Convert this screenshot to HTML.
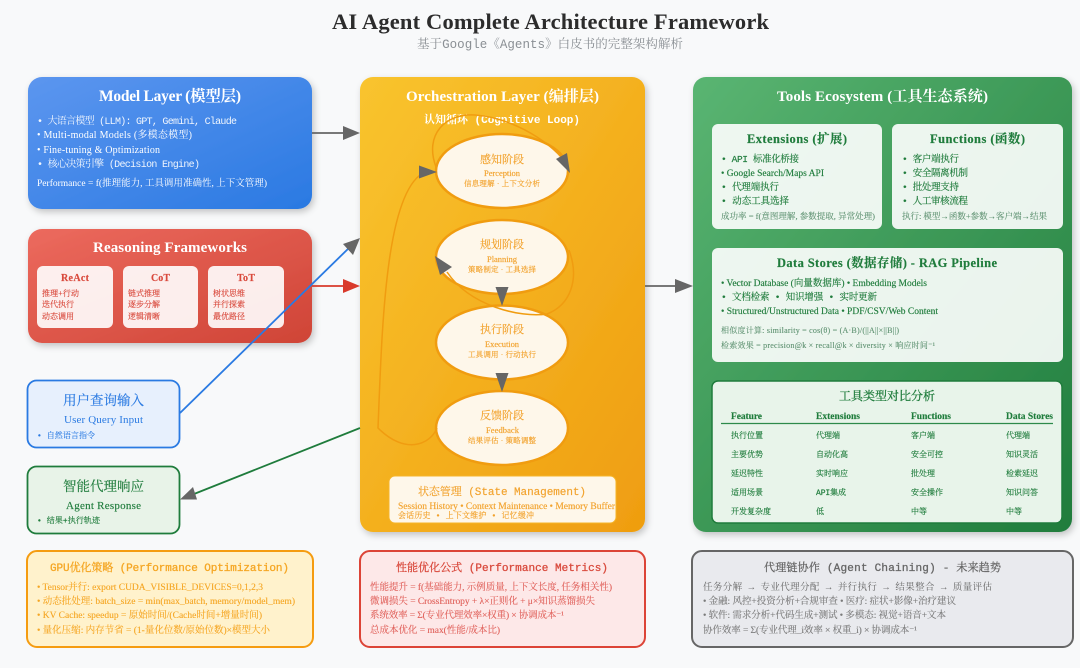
<!DOCTYPE html>
<html><head><meta charset="utf-8"><style>
html,body{margin:0;padding:0;background:#f8f9fa}
svg{display:block;filter:blur(.3px)}
text{font-family:"Liberation Serif","Noto Serif CJK SC",serif}
.m{font-family:"Liberation Mono","Noto Serif CJK SC",monospace}
.b{font-weight:bold}
.w{fill:#fff}
.g{fill:#1f7c3c;stroke:#1f7c3c;stroke-width:.15}
.gl{fill:#5f9272;stroke:#5f9272;stroke-width:.12}
.r{fill:#d94a3d;stroke:#d94a3d;stroke-width:.15}
.o{fill:#f2a22c;stroke:#f2a22c;stroke-width:.15}
.oo{fill:#f5a623;stroke:#f5a623;stroke-width:.12}
.pr{fill:#e0605a;stroke:#e0605a;stroke-width:.12}
.gy{fill:#7a7a7a;stroke:#7a7a7a;stroke-width:.12}
</style></head><body>
<svg width="1080" height="668" viewBox="0 0 1080 668" xmlns="http://www.w3.org/2000/svg">
<defs>
<linearGradient id="gb" x1="0" y1="0" x2="1" y2="1"><stop offset="0" stop-color="#5c96ef"/><stop offset="1" stop-color="#2a79e2"/></linearGradient>
<linearGradient id="gr" x1="0" y1="0" x2="1" y2="1"><stop offset="0" stop-color="#ec6a5e"/><stop offset="1" stop-color="#cf4436"/></linearGradient>
<linearGradient id="gy" x1="0" y1="0" x2="1" y2="1"><stop offset="0" stop-color="#f9c42e"/><stop offset="1" stop-color="#ef9d10"/></linearGradient>
<linearGradient id="gg" x1="0" y1="0" x2="1" y2="1"><stop offset="0" stop-color="#5ab572"/><stop offset="1" stop-color="#1f7c3c"/></linearGradient>
<filter id="sh" x="-10%" y="-10%" width="120%" height="120%"><feDropShadow dx="2" dy="3" stdDeviation="3.5" flood-color="#000" flood-opacity=".22"/></filter>
</defs>
<rect width="1080" height="668" fill="#f8f9fa"/>

<text x="332" y="29" class="b" font-size="22.5" fill="#2c2c2c" textLength="437">AI Agent Complete Architecture Framework</text>
<text x="417" y="48" class="m" font-size="12.5" fill="#8a8f94" textLength="266">基于Google《Agents》白皮书的完整架构解析</text>

<!-- Model -->
<rect x="28" y="77" width="284" height="132" rx="14" fill="url(#gb)" filter="url(#sh)"/>
<text x="99" y="101" class="b w" font-size="15.5" textLength="142">Model Layer (模型层)</text>
<g class="w" font-size="10">
<text x="37" y="124" class="m" textLength="200" fill-opacity=".92">• 大语言模型 (LLM): GPT, Gemini, Claude</text>
<text x="37" y="138" textLength="155">• Multi-modal Models (多模态模型)</text>
<text x="37" y="153" textLength="123">• Fine-tuning &amp; Optimization</text>
<text x="37" y="167" class="m" textLength="163" fill-opacity=".92">• 核心决策引擎 (Decision Engine)</text>
<text x="37" y="186" font-size="9.5" textLength="230">Performance = f(推理能力, 工具调用准确性, 上下文管理)</text>
</g>

<!-- Reasoning -->
<rect x="28" y="229" width="284" height="114" rx="14" fill="url(#gr)" filter="url(#sh)"/>
<text x="93" y="252" class="b w" font-size="15" textLength="154">Reasoning Frameworks</text>
<g fill="#fff" fill-opacity=".9">
<rect x="37" y="266" width="76" height="62" rx="6"/><rect x="123" y="266" width="75" height="62" rx="6"/><rect x="208" y="266" width="76" height="62" rx="6"/>
</g>
<g class="r b" font-size="10">
<text x="61" y="281" textLength="28">ReAct</text><text x="151" y="281" textLength="19">CoT</text><text x="237" y="281" textLength="18">ToT</text>
</g>
<g class="r" font-size="8">
<text x="42" y="296" textLength="37">推理+行动</text><text x="42" y="307">迭代执行</text><text x="42" y="319">动态调用</text>
<text x="128" y="296">链式推理</text><text x="128" y="307">逐步分解</text><text x="128" y="319">逻辑清晰</text>
<text x="213" y="296">树状思维</text><text x="213" y="307">并行探索</text><text x="213" y="319">最优路径</text>
</g>

<!-- Input / Response -->
<rect x="27.500" y="380.500" width="152" height="67" rx="9" fill="#e7f0fd" stroke="#2a7ae2" stroke-width="1.800"/>
<text x="63" y="405" font-size="13.500" fill="#2a7ae2" stroke="#2a7ae2" stroke-width=".15" textLength="81">用户查询输入</text>
<text x="64" y="423" font-size="11" fill="#2a7ae2" textLength="79">User Query Input</text>
<text x="37" y="438" class="m" font-size="8" fill="#2a7ae2" stroke="#2a7ae2" stroke-width=".12" textLength="58">• 自然语言指令</text>
<rect x="27.500" y="466.500" width="152" height="67" rx="9" fill="#e8f3e8" stroke="#1f7c3c" stroke-width="1.800"/>
<text x="63" y="491" font-size="13.500" class="g" textLength="81">智能代理响应</text>
<text x="66" y="509" font-size="11" class="g" textLength="75">Agent Response</text>
<text x="37" y="523" class="m g" font-size="8" textLength="63">• 结果+执行轨迹</text>

<!-- Orchestration -->
<rect x="360" y="77" width="285" height="455" rx="13" fill="url(#gy)" filter="url(#sh)"/>
<text x="406" y="101" class="b w" font-size="15" textLength="193">Orchestration Layer (编排层)</text>
<text x="424" y="123" class="m b w" font-size="11" textLength="156">认知循环 (Cognitive Loop)</text>

<g fill="#fef7ea" stroke="#f09c10" stroke-width="2.500">
<ellipse cx="502" cy="171" rx="66" ry="37"/>
<ellipse cx="502" cy="257" rx="66" ry="37"/>
<ellipse cx="502" cy="342.500" rx="66" ry="37"/>
<ellipse cx="502" cy="428" rx="66" ry="37"/>
</g>
<g fill="none" stroke="#f09c10" stroke-width="1.500">
<path d="M436 167C424 135 445 113 475 115C515 118 555 145 567 165"/>
<path d="M569 250C580 280 570 305 547 314C520 318 470 306 447 272"/>
<path d="M437 428C430 445 405 455 378 428C382 330 385 190 425 172"/>
</g>
<g fill="#666">
<polygon points="570,173 556,159 567,153"/>
<polygon points="435,256 440,275 452,267"/>
<polygon points="437,172 419,165.500 419,178.500"/>
<polygon points="502,306 495.500,287 508.500,287"/>
<polygon points="502,392 495.500,373 508.500,373"/>
</g>
<g class="o">
<g font-size="11" text-anchor="middle">
<text x="502" y="163">感知阶段</text><text x="502" y="248">规划阶段</text><text x="502" y="333">执行阶段</text><text x="502" y="419">反馈阶段</text>
</g>
<g font-size="8.500">
<text x="484" y="176" textLength="36">Perception</text><text x="487" y="262" textLength="30">Planning</text><text x="485" y="347" textLength="34">Execution</text><text x="486" y="433" textLength="33">Feedback</text>
</g>
<g font-size="7.500">
<text x="464" y="186" textLength="76">信息理解 · 上下文分析</text>
<text x="468" y="272" textLength="68">策略制定 · 工具选择</text>
<text x="468" y="357" textLength="68">工具调用 · 行动执行</text>
<text x="468" y="443" textLength="68">结果评估 · 策略调整</text>
</g>
</g>
<rect x="389" y="476" width="227" height="47" rx="6" fill="#fef7ea" stroke="#f5b52a"/>
<text x="418" y="495" class="m o" font-size="11" textLength="168">状态管理 (State Management)</text>
<text x="398" y="509" class="o" font-size="9.500" textLength="217">Session History • Context Maintenance • Memory Buffer</text>
<text x="398" y="518" class="m o" font-size="8" textLength="136">会话历史 • 上下文维护 • 记忆缓冲</text>

<!-- Tools -->
<rect x="693" y="77" width="379" height="455" rx="13" fill="url(#gg)" filter="url(#sh)"/>
<text x="777" y="101" class="b w" font-size="15" textLength="211">Tools Ecosystem (工具生态系统)</text>
<g fill="#fff" fill-opacity=".9">
<rect x="712" y="124" width="170" height="105" rx="6"/>
<rect x="892" y="124" width="171" height="105" rx="6"/>
<rect x="712" y="248" width="351" height="114" rx="6"/>
</g>
<text x="747" y="143" class="b g" font-size="12.500" textLength="100">Extensions (扩展)</text>
<text x="930" y="143" class="b g" font-size="12.500" textLength="95">Functions (函数)</text>
<g class="g" font-size="9.500">
<text x="721" y="162" class="m" textLength="78">• API 标准化桥接</text>
<text x="721" y="176" textLength="103">• Google Search/Maps API</text>
<text x="721" y="190" class="m" textLength="58">• 代理端执行</text>
<text x="721" y="204" class="m" textLength="68">• 动态工具选择</text>
<text x="902" y="162" class="m" textLength="57">• 客户端执行</text>
<text x="902" y="176" class="m" textLength="66">• 安全隔离机制</text>
<text x="902" y="190" class="m" textLength="57">• 批处理支持</text>
<text x="902" y="204" class="m" textLength="66">• 人工审核流程</text>
</g>
<text x="721" y="219" class="gl" font-size="8.500" textLength="154">成功率 = f(意图理解, 参数提取, 异常处理)</text>
<text x="902" y="219" class="gl" font-size="8.500" textLength="145">执行: 模型→函数+参数→客户端→结果</text>

<text x="777" y="267" class="b g" font-size="12.500" textLength="220">Data Stores (数据存储) - RAG Pipeline</text>
<g class="g" font-size="9.500">
<text x="721" y="286" textLength="206">• Vector Database (向量数据库) • Embedding Models</text>
<text x="721" y="300" class="m" textLength="156">• 文档检索 • 知识增强 • 实时更新</text>
<text x="721" y="314" textLength="217">• Structured/Unstructured Data • PDF/CSV/Web Content</text>
</g>
<g class="gl" font-size="8">
<text x="721" y="333" textLength="178">相似度计算: similarity = cos(θ) = (A·B)/(||A||×||B||)</text>
<text x="721" y="348" textLength="214">检索效果 = precision@k × recall@k × diversity × 响应时间⁻¹</text>
</g>

<rect x="712" y="381" width="350" height="142" rx="6" fill="#e8f4ea" stroke="#1f7c3c" stroke-width="1.500"/>
<text x="839" y="400" class="g" font-size="12" style="stroke-width:.3" textLength="96">工具类型对比分析</text>
<g class="g b" font-size="9.500">
<text x="731" y="419" textLength="31">Feature</text>
<text x="816" y="419" textLength="44">Extensions</text>
<text x="911" y="419" textLength="40">Functions</text>
<text x="1006" y="419" textLength="47">Data Stores</text>
</g>
<line x1="721" y1="423.500" x2="1053" y2="423.500" stroke="#2d8a4a" stroke-width="1.200"/>
<g class="g" font-size="8">
<text x="731" y="438">执行位置</text><text x="816" y="438">代理端</text><text x="911" y="438">客户端</text><text x="1006" y="438">代理端</text>
<text x="731" y="457">主要优势</text><text x="816" y="457">自动化高</text><text x="911" y="457">安全可控</text><text x="1006" y="457">知识灵活</text>
<text x="731" y="476">延迟特性</text><text x="816" y="476">实时响应</text><text x="911" y="476">批处理</text><text x="1006" y="476">检索延迟</text>
<text x="731" y="495">适用场景</text><text x="816" y="495" class="m" textLength="30">API集成</text><text x="911" y="495">安全操作</text><text x="1006" y="495">知识问答</text>
<text x="731" y="514">开发复杂度</text><text x="816" y="514">低</text><text x="911" y="514">中等</text><text x="1006" y="514">中等</text>
</g>

<!-- Connectors -->
<g stroke-width="1.800" fill="none">
<line x1="312" y1="133" x2="344" y2="133" stroke="#666"/>
<line x1="312" y1="286" x2="344" y2="286" stroke="#d93a2b"/>
<line x1="180" y1="413" x2="352" y2="245" stroke="#2a7ae2"/>
<line x1="360" y1="428" x2="194" y2="494" stroke="#1f7c3c"/>
<line x1="645" y1="286" x2="676" y2="286" stroke="#666"/>
</g>
<polygon points="360,133 343,126 343,140" fill="#666"/>
<polygon points="360,286 343,279 343,293" fill="#d93a2b"/>
<polygon points="360,238 343,244 353,255" fill="#666"/>
<polygon points="180,499.500 193,487 197,499.500" fill="#666"/>
<polygon points="693,286 675,279 675,293" fill="#666"/>

<!-- Bottom -->
<rect x="27" y="551" width="286" height="96" rx="10" fill="#fff2cc" stroke="#f59c10" stroke-width="2"/>
<text x="50" y="571" class="m oo" style="stroke-width:.3" font-size="11" textLength="239">GPU优化策略 (Performance Optimization)</text>
<g class="oo" font-size="9.500">
<text x="37" y="590" textLength="226">• Tensor并行: export CUDA_VISIBLE_DEVICES=0,1,2,3</text>
<text x="37" y="604" textLength="258">• 动态批处理: batch_size = min(max_batch, memory/model_mem)</text>
<text x="37" y="618" textLength="225">• KV Cache: speedup = 原始时间/(Cache时间+增量时间)</text>
<text x="37" y="633" textLength="233">• 量化压缩: 内存节省 = (1-量化位数/原始位数)×模型大小</text>
</g>

<rect x="360" y="551" width="285" height="96" rx="10" fill="#fde8e8" stroke="#dc4437" stroke-width="2"/>
<text x="396" y="571" class="m r" style="stroke-width:.3" font-size="11" textLength="212">性能优化公式 (Performance Metrics)</text>
<g class="pr" font-size="9.500">
<text x="370" y="590" textLength="242">性能提升 = f(基础能力, 示例质量, 上下文长度, 任务相关性)</text>
<text x="370" y="604" textLength="225">微调损失 = CrossEntropy + λ×正则化 + μ×知识蒸馏损失</text>
<text x="370" y="618" textLength="194">系统效率 = Σ(专业代理效率×权重) × 协调成本⁻¹</text>
<text x="370" y="633" textLength="130">总成本优化 = max(性能/成本比)</text>
</g>

<rect x="692" y="551" width="381" height="96" rx="10" fill="#e9eaee" stroke="#666" stroke-width="2"/>
<text x="764" y="571" class="m" font-size="11" fill="#666" stroke="#666" stroke-width=".3" textLength="237">代理链协作 (Agent Chaining) - 未来趋势</text>
<text x="703" y="590" class="m" font-size="9.500" fill="#666" textLength="289">任务分解 → 专业代理分配 → 并行执行 → 结果整合 → 质量评估</text>
<g class="gy" font-size="9.500">
<text x="703" y="604" textLength="253">• 金融: 风控+投资分析+合规审查 • 医疗: 症状+影像+治疗建议</text>
<text x="703" y="618" textLength="243">• 软件: 需求分析+代码生成+测试 • 多模态: 视觉+语音+文本</text>
<text x="703" y="633" textLength="214">协作效率 = Σ(专业代理_i效率 × 权重_i) × 协调成本⁻¹</text>
</g>
</svg>
</body></html>
